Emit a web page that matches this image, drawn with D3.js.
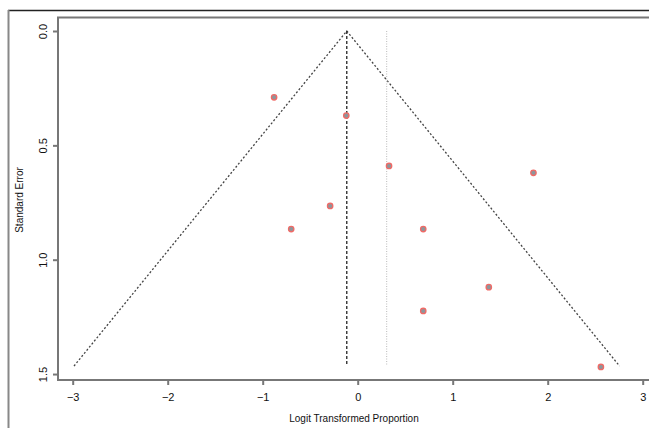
<!DOCTYPE html>
<html><head><meta charset="utf-8">
<script src="https://cdn.jsdelivr.net/npm/d3@7"></script>
<style>body{margin:0;background:#fff}svg{display:block}</style>
</head><body>
<svg id="c" width="649" height="428"></svg>
<script>
const effect = [-0.88, -0.12, 0.33, 1.85, -0.29, -0.70, 0.69, 1.38, 0.69, 2.56];
const stderr = [0.29, 0.37, 0.59, 0.62, 0.765, 0.866, 0.866, 1.12, 1.224, 1.469];
const xTicks = [-3, -2, -1, 0, 1, 2, 3];
const yTicks = [0.0, 0.5, 1.0, 1.5];
const pooled = -0.115;
const refLine = 0.305;
const seMax = 1.465;

const svg = d3.select("#c");
const x = d3.scaleLinear().domain([0, 1]).range([357.7, 452.7]);
const y = d3.scaleLinear().domain([0, 1]).range([31, 259.7]);
const font = "Liberation Sans, Arial, sans-serif";

// outer frame
svg.append("line").attr("x1", 8).attr("x2", 649).attr("y1", 10.5).attr("y2", 10.5).attr("stroke", "#222").attr("stroke-width", 1.5);
svg.append("line").attr("x1", 8.5).attr("x2", 8.5).attr("y1", 10).attr("y2", 428).attr("stroke", "#888").attr("stroke-width", 2);

// plot box (top, left, bottom)
const L = 58, T = 17.5, B = 380, R = 649;
svg.append("path").attr("d", `M${R},${T}H${L}V${B}H${R}`).attr("fill", "none").attr("stroke", "#777").attr("stroke-width", 2);

// axes
const xAxis = d3.axisBottom(x).tickValues(xTicks).tickSize(5).tickFormat(d => d < 0 ? "\u2212" + Math.abs(d) : d);
const gx = svg.append("g").attr("transform", `translate(0,${B})`).call(xAxis);
gx.select(".domain").remove();
gx.selectAll(".tick line").attr("stroke", "#777").attr("stroke-width", 2);
gx.selectAll(".tick text").attr("font-family", font).attr("font-size", 11).attr("fill", "#111").attr("dy", "1.2em");

const yAxis = d3.axisLeft(y).tickValues(yTicks).tickSize(5).tickFormat(d3.format(".1f"));
const gy = svg.append("g").attr("transform", `translate(${L},0)`).call(yAxis);
gy.select(".domain").remove();
gy.selectAll(".tick line").attr("stroke", "#777").attr("stroke-width", 2);
gy.selectAll(".tick text").attr("font-family", font).attr("font-size", 11).attr("fill", "#111")
  .attr("x", null).attr("dy", null).attr("text-anchor", "middle")
  .attr("transform", "translate(-15,0) rotate(-90)").attr("dy", "0.35em");

// titles
svg.append("text").attr("x", 354).attr("y", 422).attr("text-anchor", "middle").attr("font-family", font).attr("font-size", 10).attr("fill", "#111").text("Logit Transformed Proportion");
svg.append("text").attr("transform", "translate(23,200) rotate(-90)").attr("text-anchor", "middle").attr("font-family", font).attr("font-size", 10).attr("fill", "#111").text("Standard Error");

// funnel
const funnel = [[pooled - 1.96 * seMax, seMax], [pooled, 0], [pooled + 1.96 * seMax, seMax]];
svg.append("path").attr("d", d3.line().x(d => x(d[0])).y(d => y(d[1]))(funnel))
  .attr("fill", "none").attr("stroke", "#444").attr("stroke-width", 1.3).attr("stroke-dasharray", "2,2");
svg.append("line").attr("x1", x(pooled)).attr("x2", x(pooled)).attr("y1", y(0)).attr("y2", y(seMax))
  .attr("stroke", "#222").attr("stroke-width", 1.3).attr("stroke-dasharray", "3,2");
svg.append("line").attr("x1", x(refLine)).attr("x2", x(refLine)).attr("y1", y(0)).attr("y2", y(seMax))
  .attr("stroke", "#bbb").attr("stroke-width", 1).attr("stroke-dasharray", "1,1.5");

// points
svg.append("g").selectAll("circle").data(effect.map((e, i) => [e, stderr[i]])).join("circle")
  .attr("cx", d => x(d[0])).attr("cy", d => y(d[1])).attr("r", 2.7)
  .attr("fill", "#8c969c").attr("stroke", "#f06a66").attr("stroke-width", 1.3);
</script>
</body></html>
